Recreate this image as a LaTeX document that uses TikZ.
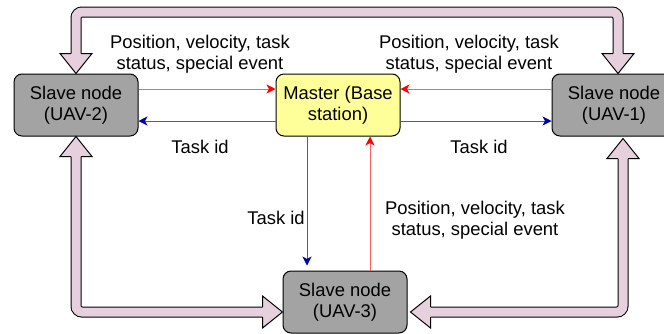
\documentclass[tikz,border=0pt]{standalone}
\usepackage{fontspec}
\setmainfont{Liberation Sans}
\usetikzlibrary{arrows.meta,calc}
\definecolor{pinkfill}{RGB}{230,208,222}
\definecolor{grayfill}{RGB}{163,163,163}
\definecolor{yellowfill}{RGB}{255,255,153}
\definecolor{redline}{RGB}{255,95,95}
\definecolor{blueline}{RGB}{80,80,200}
\definecolor{redtip}{RGB}{255,0,0}
\definecolor{bluetip}{RGB}{0,0,170}
\newcommand\bighead[2]{\begin{scope}[shift={(#1)},rotate=#2]\filldraw[fill=pinkfill,draw=black,line width=1pt,line join=miter] (-20,5.2) -- (-20,16) -- (0,0) -- (-20,-16) -- (-20,-5.2);\end{scope}}
\begin{document}
\begin{tikzpicture}[x=1pt,y=-1pt,
  font=\fontsize{18.4}{21}\selectfont,
  box/.style={draw=black,line width=1pt,rounded corners=8pt,minimum width=124pt,minimum height=62pt,align=center,inner sep=2pt},
  slave/.style={box,fill=grayfill},
  master/.style={box,fill=yellowfill},
  lbl/.style={align=center,inner sep=0pt},
  redarr/.style={draw=redline,line width=0.9pt,-{Stealth[length=9pt,width=9pt,inset=2.5pt,color=redtip]}},
  bluearr/.style={draw=blueline,line width=0.9pt,-{Stealth[length=9pt,width=9pt,inset=2.5pt,color=bluetip]}},
  shaft/.style={double=pinkfill,double distance=9pt,line width=1pt,draw=black,rounded corners=6pt}]
\useasboundingbox (0,0) rectangle (664,333);
\clip (0,0) rectangle (664,333);
% nodes
\node[slave] (u2) at (76,105) {Slave node\\(UAV-2)};
\node[master] (m) at (338,105) {Master (Base\\station)};
\node[slave] (u1) at (614,105) {Slave node\\(UAV-1)};
\node[slave] (u3) at (345,302) {Slave node\\(UAV-3)};
% big arrows
\coordinate (h1) at ($(u1.north)+(4,0)$);
\coordinate (h3) at ($(u3.west)+(0,10)$);
\coordinate (h4) at ($(u1.south)+(9,2)$);
\coordinate (h5) at ($(u3.east)+(3,10)$);
\draw[shaft] ($(u2.north)+(0,-19)$) |- (346,12) -| ($(h1)+(0,-19)$);
\bighead{u2.north}{-90}
\bighead{h1}{-90}
\draw[shaft] ($(u2.south)+(0,19)$) |- ($(h3)+(-19,0)$);
\bighead{u2.south}{90}
\bighead{h3}{0}
\draw[shaft] ($(h4)+(0,19)$) |- ($(h5)+(19,0)$);
\bighead{h4}{90}
\bighead{h5}{180}
% thin arrows
\draw[redarr] (u2.east |- 0,89) -- (m.west |- 0,89);
\draw[redarr] (u1.west |- 0,89) -- (m.east |- 0,89);
\draw[bluearr] (m.west |- 0,121) -- (u2.east |- 0,121);
\draw[bluearr] (m.east |- 0,121) -- (u1.west |- 0,121);
\draw[bluearr,shorten >=5pt] (m.south -| 307,0) -- (u3.north -| 307,0);
\draw[redarr] (u3.north -| 370,0) -- (m.south -| 370,0);
% labels
\node[lbl] (l1) at (200,54) {Position, velocity, task\\status, special event};
\node[lbl] (l2) at (469,54) {Position, velocity, task\\status, special event};
\node[lbl] (t1) at (200,147) {Task id};
\node[lbl] (t2) at (479,147) {Task id};
\node[lbl] (t3) at (276,218) {Task id};
\node[lbl] (l3) at (475,220) {Position, velocity, task\\status, special event};
\end{tikzpicture}
\end{document}
